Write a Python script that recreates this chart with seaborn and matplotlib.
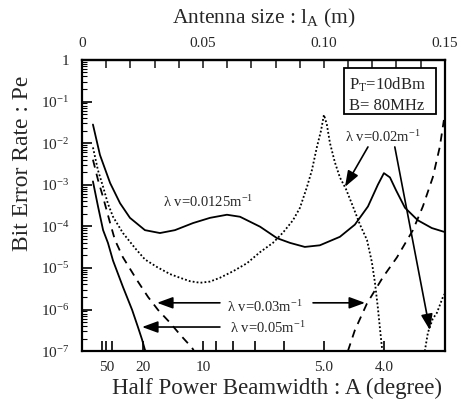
import matplotlib
matplotlib.use("Agg")
import matplotlib.pyplot as plt
import numpy as np
import seaborn as sns
from matplotlib.patches import Rectangle
from matplotlib.ticker import LogLocator, NullFormatter

# antenna size lA (m) and bit error rate Pe
la_0125 = [0.0045, 0.0074, 0.0116, 0.0157, 0.0198, 0.0260, 0.0322, 0.0384, 0.0459, 0.0529,
           0.0599, 0.0653, 0.0736, 0.0806, 0.0860, 0.0921, 0.0983, 0.1066, 0.1128, 0.1182,
           0.1223, 0.1248, 0.1273, 0.1298, 0.1335, 0.1388, 0.1446, 0.1496]
pe_0125 = [2.8e-2, 5.2e-3, 1.1e-3, 3.6e-4, 1.6e-4, 8.1e-5, 6.9e-5, 8.1e-5, 1.2e-4, 1.6e-4,
           1.9e-4, 1.7e-4, 9.8e-5, 5.2e-5, 4.0e-5, 3.2e-5, 3.5e-5, 5.6e-5, 1.1e-4, 3.0e-4,
           1.0e-3, 1.9e-3, 1.5e-3, 7.4e-4, 2.8e-4, 1.4e-4, 9.1e-5, 7.4e-5]

la_002 = [0.0045, 0.0066, 0.0087, 0.0107, 0.0128, 0.0169, 0.0219, 0.0260, 0.0310, 0.0364,
          0.0405, 0.0446, 0.0488, 0.0529, 0.0570, 0.0624, 0.0682, 0.0736, 0.0789, 0.0831,
          0.0872, 0.0901, 0.0930, 0.0950, 0.0971, 0.0988, 0.1000, 0.1012, 0.1025, 0.1045,
          0.1066, 0.1091, 0.1120, 0.1149, 0.1178, 0.1198, 0.1211, 0.1223, 0.1231, 0.1240, 0.1244]
pe_002 = [7.9e-3, 2.2e-3, 8.9e-4, 3.5e-4, 1.7e-4, 6.9e-5, 3.0e-5, 1.6e-5, 1.05e-5, 7.1e-6,
          5.8e-6, 4.8e-6, 4.4e-6, 4.7e-6, 5.8e-6, 8.3e-6, 1.3e-5, 2.4e-5, 4.0e-5, 7.1e-5,
          1.4e-4, 2.8e-4, 8.9e-4, 2.2e-3, 8.1e-3, 2.0e-2, 4.8e-2, 2.8e-2, 1.0e-2, 3.5e-3,
          1.5e-3, 7.9e-4, 3.0e-4, 1.1e-4, 4.7e-5, 1.4e-5, 4.4e-6, 1.1e-6, 3.8e-7, 1.2e-7, 1.0e-7]
la_002_b = [0.1417, 0.1430, 0.1450, 0.1467, 0.1492, 0.1500]
pe_002_b = [1.0e-7, 2.8e-7, 6.0e-7, 8.3e-7, 2.0e-6, 2.4e-6]

la_003 = [0.0045, 0.0066, 0.0087, 0.0116, 0.0136, 0.0169, 0.0227, 0.0273, 0.0314, 0.0364,
          0.0405, 0.0455, 0.0463]
pe_003 = [4.0e-3, 1.3e-3, 5.0e-4, 1.2e-4, 4.7e-5, 1.8e-5, 5.1e-6, 2.0e-6, 9.8e-7, 4.8e-7,
          2.5e-7, 1.2e-7, 1.0e-7]
la_003_b = [0.1099, 0.1128, 0.1178, 0.1244, 0.1302, 0.1368, 0.1409, 0.1450, 0.1479, 0.1496]
pe_003_b = [1.0e-7, 3.2e-7, 1.4e-6, 6.0e-6, 1.8e-5, 8.1e-5, 3.0e-4, 1.5e-3, 8.1e-3, 3.6e-2]

la_005 = [0.0045, 0.0066, 0.0087, 0.0107, 0.0128, 0.0169, 0.0207, 0.0231, 0.0248, 0.0260, 0.0264]
pe_005 = [1.2e-3, 3.0e-4, 8.1e-5, 4.0e-5, 1.5e-5, 3.5e-6, 9.8e-7, 3.8e-7, 1.9e-7, 1.07e-7, 1.0e-7]

# axes ticks
size_ticks = [0.0, 0.01, 0.02, 0.03, 0.04, 0.05, 0.06, 0.07, 0.08, 0.09, 0.10,
              0.11, 0.12, 0.13, 0.14, 0.15]
size_labels = ["0", "", "", "", "", "0.05", "", "", "", "", "0.10", "", "", "", "", "0.15"]
beam_ticks = [60, 50, 40, 20, 10, 9, 8, 7, 6, 5, 4]
beam_labels = ["", "50", "", "20", "10", "", "", "", "", "5.0", "4.0"]
pe_ticks = [1, 1e-1, 1e-2, 1e-3, 1e-4, 1e-5, 1e-6, 1e-7]
pe_labels = ["1", "$10^{-1}$", "$10^{-2}$", "$10^{-3}$", "$10^{-4}$",
             "$10^{-5}$", "$10^{-6}$", "$10^{-7}$"]
BEAM_K = 0.5  # beamwidth (deg) * antenna size (m)

sns.set_style("ticks")
plt.rcParams["font.family"] = ["Liberation Serif", "DejaVu Serif"]
plt.rcParams["mathtext.fontset"] = "custom"
plt.rcParams["mathtext.rm"] = "Liberation Serif"
plt.rcParams["mathtext.it"] = "Liberation Serif:italic"

fig = plt.figure(figsize=(4.61, 4.05), dpi=100)
ax = fig.add_axes([0.178, 0.133, 0.787, 0.719])

dotted = (0, (1, 1.2))
dashed = (0, (4.5, 3.5))
line_kw = dict(ax=ax, color="black", estimator=None, sort=False, legend=False)
sns.lineplot(x=la_0125, y=pe_0125, lw=1.3, linestyle="-", **line_kw)
sns.lineplot(x=la_002, y=pe_002, lw=1.3, linestyle=dotted, **line_kw)
sns.lineplot(x=la_002_b, y=pe_002_b, lw=1.3, linestyle=dotted, **line_kw)
sns.lineplot(x=la_003, y=pe_003, lw=1.3, linestyle=dashed, **line_kw)
sns.lineplot(x=la_003_b, y=pe_003_b, lw=1.3, linestyle=dashed, **line_kw)
sns.lineplot(x=la_005, y=pe_005, lw=1.3, linestyle="-", **line_kw)

ax.set_yscale("log")
ax.set_xlim(0, 0.15)
ax.set_ylim(1e-7, 1)

ax.set_yticks(pe_ticks, labels=pe_labels)
ax.yaxis.set_minor_locator(LogLocator(base=10, subs=np.arange(2, 10), numticks=20))
ax.yaxis.set_minor_formatter(NullFormatter())
ax.set_xticks([BEAM_K / t for t in beam_ticks], labels=beam_labels)
ax.tick_params(axis="both", which="both", direction="in", labelsize=11, color="black")
ax.tick_params(axis="y", which="major", length=7, width=1.2, pad=9)
ax.tick_params(axis="y", which="minor", length=3.5, width=0.8)
ax.tick_params(axis="x", which="major", length=7, width=1.2, pad=7)
ax.grid(False)

for s in ax.spines.values():
    s.set_linewidth(1.6)
    s.set_color("black")

top = ax.secondary_xaxis("top")
top.set_xticks(size_ticks, labels=size_labels)
top.tick_params(direction="in", length=6, width=1.2, labelsize=11, pad=7)
top.spines["top"].set_linewidth(1.6)
top.set_xlabel("Antenna size : l$_\\mathrm{A}$ (m)", fontsize=15.5, labelpad=10)

ax.set_xlabel("Half Power Beamwidth : A (degree)", fontsize=16.5, va="center")
ax.xaxis.set_label_coords(0.537, -0.128)
ax.set_ylabel("Bit Error Rate : Pe", fontsize=17, va="center")
ax.yaxis.set_label_coords(-0.165, 0.646)

# parameter box
ax.add_patch(Rectangle((0.722, 0.814), 0.253, 0.159, transform=ax.transAxes,
                       fill=False, lw=1.3, color="black"))
ax.text(0.737, 0.914, "P$_\\mathrm{T}$=10dBm", transform=ax.transAxes,
        fontsize=12, ha="left", va="center")
ax.text(0.737, 0.842, "B= 80MHz", transform=ax.transAxes,
        fontsize=12, ha="left", va="center")

# curve labels and arrows
arrow_kw = dict(arrowstyle="-|>,head_length=0.6,head_width=0.22", color="black",
                lw=1.2, mutation_scale=16, shrinkA=0, shrinkB=0)
ax.text(0.052, 3.9e-4, "λ v=0.0125m$^{-1}$", fontsize=10.5, ha="center", va="center")
ax.text(0.1244, 1.4e-2, "λ v=0.02m$^{-1}$", fontsize=10.5, ha="center", va="center")
ax.annotate("", xy=(0.1087, 8.9e-4), xytext=(0.1182, 8.1e-3), arrowprops=arrow_kw)
ax.annotate("", xy=(0.1438, 3.2e-7), xytext=(0.1293, 8.1e-3), arrowprops=arrow_kw)
ax.text(0.0756, 1.15e-6, "λ v=0.03m$^{-1}$", fontsize=10.5, ha="center", va="center")
ax.annotate("", xy=(0.031, 1.45e-6), xytext=(0.057, 1.45e-6), arrowprops=arrow_kw)
ax.annotate("", xy=(0.117, 1.45e-6), xytext=(0.0955, 1.45e-6), arrowprops=arrow_kw)
ax.text(0.0769, 3.6e-7, "λ v=0.05m$^{-1}$", fontsize=10.5, ha="center", va="center")
ax.annotate("", xy=(0.0248, 3.8e-7), xytext=(0.057, 3.8e-7), arrowprops=arrow_kw)

fig.savefig("out.png", dpi=100)
